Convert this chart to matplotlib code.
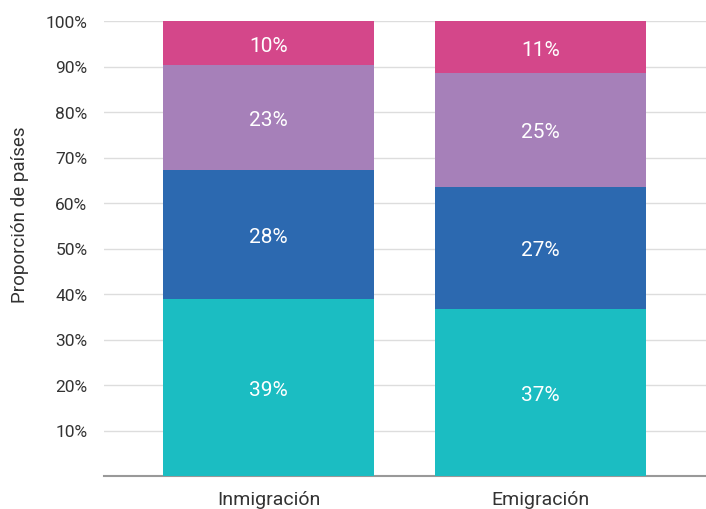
import matplotlib
matplotlib.use("Agg")
import matplotlib.pyplot as plt
import numpy as np

plt.rcParams['font.family'] = ['Roboto', 'DejaVu Sans']

categories = ["Inmigración", "Emigración"]
series_values = [
    [39.0, 36.8],   # segment 1 (bottom)
    [28.2, 26.8],   # segment 2
    [23.1, 24.9],   # segment 3
    [9.7, 11.5],    # segment 4 (top)
]
series_labels = [
    ["39%", "37%"],
    ["28%", "27%"],
    ["23%", "25%"],
    ["10%", "11%"],
]
colors = ["#1BBDC2", "#2C69B0", "#A680B9", "#D4478A"]
yticks = [10, 20, 30, 40, 50, 60, 70, 80, 90, 100]
ytick_labels = [f"{t}%" for t in yticks]

fig = plt.figure(figsize=(7.06, 5.10), dpi=100)
ax = fig.add_axes([104/706, 33/510, 602/706, 455/510])

x = np.arange(len(categories))
bottom = np.zeros(len(categories))
for vals, labs, c in zip(series_values, series_labels, colors):
    vals = np.array(vals)
    ax.bar(x, vals, width=0.776, bottom=bottom, color=c, zorder=3)
    for xi, b, v, lab in zip(x, bottom, vals, labs):
        ax.text(xi, b + v / 2, lab, ha="center", va="center_baseline",
                color="white", fontsize=15, zorder=4)
    bottom = bottom + vals

ax.set_xlim(-0.605, 1.608)
ax.set_ylim(0, 100)
ax.set_yticks(yticks)
ax.set_yticklabels(ytick_labels)
ax.set_xticks(x)
ax.set_xticklabels(categories)
ax.yaxis.grid(True, color="#dddddd", linewidth=1, zorder=0)
ax.set_axisbelow(True)
for s in ["left", "right", "top"]:
    ax.spines[s].set_visible(False)
ax.spines["bottom"].set_color("#999999")
ax.spines["bottom"].set_linewidth(1.5)
ax.tick_params(axis="y", length=0, pad=12, labelsize=12.5, labelcolor="#333333")
ax.tick_params(axis="x", length=0, pad=10, labelsize=14, labelcolor="#333333")
fig.text(20/706, 295/510, "Proporción de países", rotation=90, ha="center",
         va="center", fontsize=13.5, color="#333333")

fig.savefig("out.png", dpi=100)
